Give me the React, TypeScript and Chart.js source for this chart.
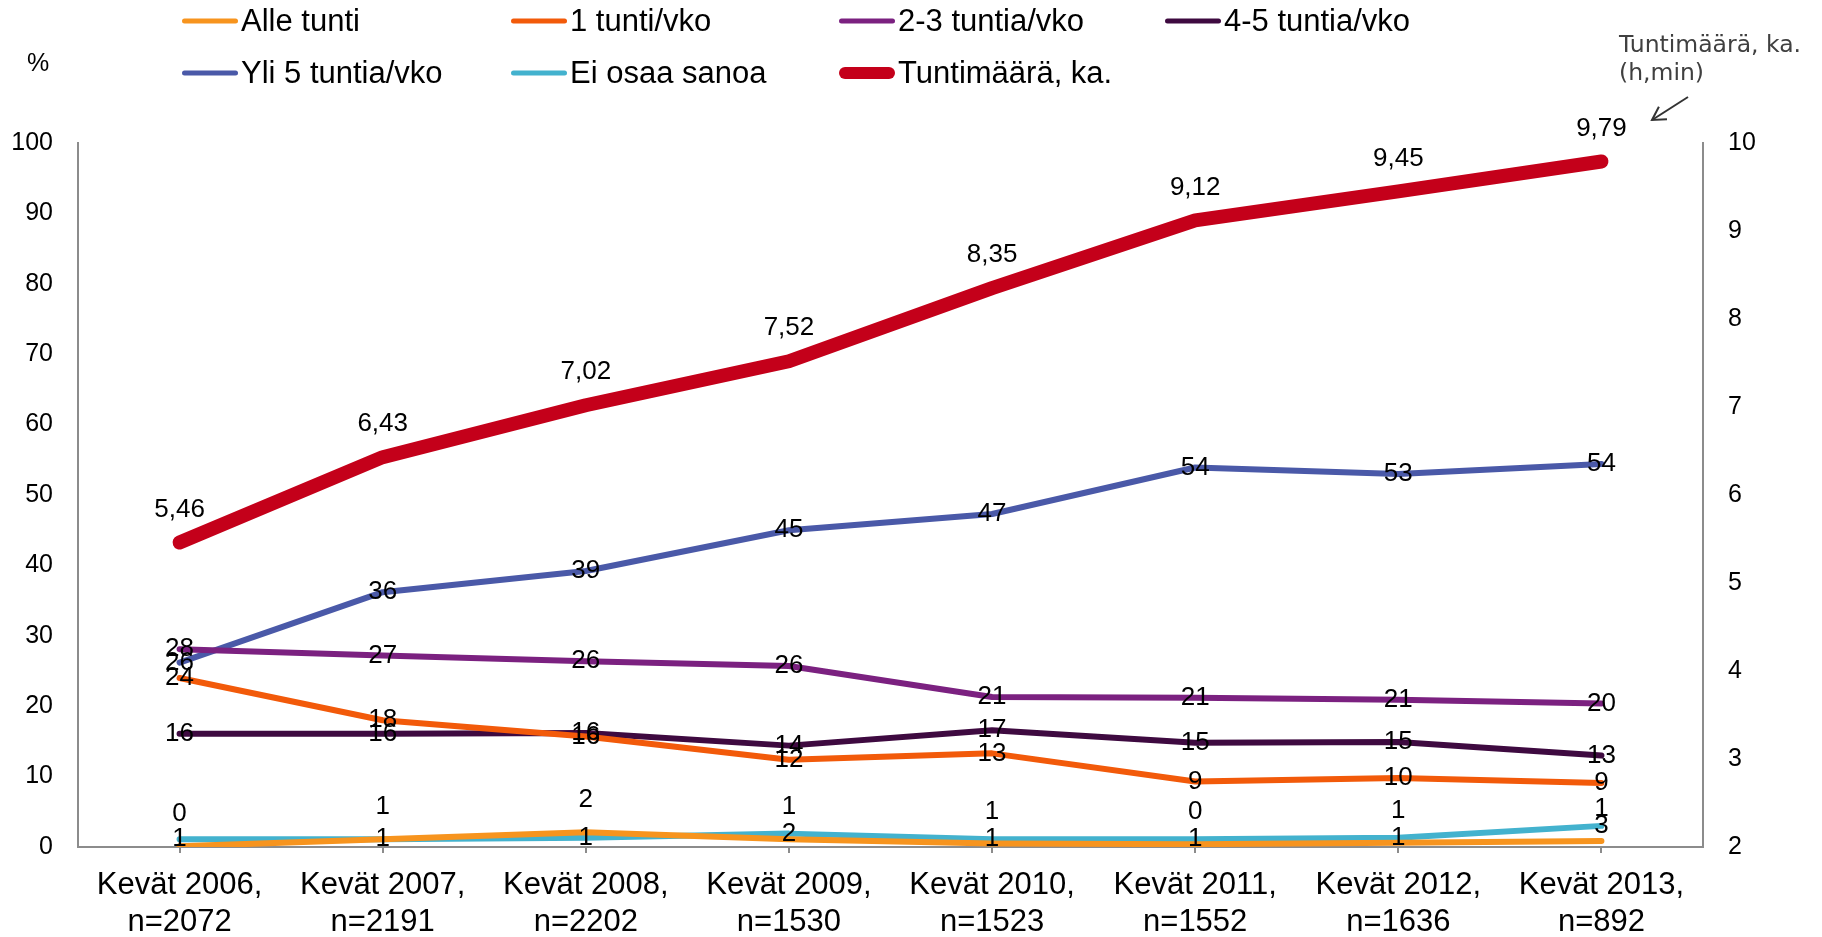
import React, { useEffect, useRef } from "react";
import { Chart, registerables } from "chart.js";

Chart.register(...registerables);

const categories: string[][] = [
  ["Kevät 2006,", "n=2072"],
  ["Kevät 2007,", "n=2191"],
  ["Kevät 2008,", "n=2202"],
  ["Kevät 2009,", "n=1530"],
  ["Kevät 2010,", "n=1523"],
  ["Kevät 2011,", "n=1552"],
  ["Kevät 2012,", "n=1636"],
  ["Kevät 2013,", "n=892"],
];

const alleTunti = [0.1, 1.1, 2.1, 1.1, 0.5, 0.4, 0.6, 0.85];
const yksiTunti = [24.0, 18.0, 15.7, 12.4, 13.3, 9.3, 9.8, 9.1];
const kaksiKolmeTuntia = [28.1, 27.2, 26.4, 25.7, 21.3, 21.2, 20.9, 20.4];
const neljaViisiTuntia = [16.1, 16.1, 16.2, 14.4, 16.6, 14.8, 14.9, 13.0];
const yli5Tuntia = [26.2, 36.2, 39.2, 45.0, 47.3, 53.9, 53.0, 54.4];
const eiOsaaSanoa = [1.1, 1.1, 1.3, 1.9, 1.1, 1.1, 1.3, 3.0];
const tuntimaara = [5.46, 6.43, 7.02, 7.52, 8.35, 9.12, 9.45, 9.79];

const seriesNames = [
  "Alle tunti",
  "1 tunti/vko",
  "2-3 tuntia/vko",
  "4-5 tuntia/vko",
  "Yli 5 tuntia/vko",
  "Ei osaa sanoa",
  "Tuntimäärä, ka.",
];
const seriesColors = ["#F7941E", "#F25A0A", "#7B2180", "#3E0A40", "#4A59A8", "#43B2CE", "#C4001A"];

const leftAxisMin = 0;
const leftAxisMax = 100;
const leftAxisStep = 10;
const rightAxisMin = 2;
const rightAxisMax = 10;
const rightAxisStep = 1;

const annotationLines = ["Tuntimäärä, ka.", "(h,min)"];
const leftAxisUnit = "%";

const FONT = "'Liberation Sans', Arial, Helvetica, sans-serif";

// offset (px) of data labels relative to point; 0 = centered
const labelOffsets = [-32, 0, 0, 0, 0, 0, -33];

const dataLabelPlugin = {
  id: "dataLabels",
  afterDatasetsDraw(chart: any) {
    const ctx = chart.ctx;
    ctx.save();
    ctx.font = `26px ${FONT}`;
    ctx.fillStyle = "#000";
    ctx.textAlign = "center";
    ctx.textBaseline = "middle";
    chart.data.datasets.forEach((ds: any, i: number) => {
      const meta = chart.getDatasetMeta(i);
      meta.data.forEach((el: any, j: number) => {
        const v = ds.data[j];
        const txt = i === 6 ? v.toFixed(2).replace(".", ",") : String(Math.round(v));
        ctx.fillText(txt, el.x, el.y + labelOffsets[i]);
      });
    });
    ctx.restore();
  },
};

const legendPlugin = {
  id: "customLegend",
  afterDraw(chart: any) {
    const ctx = chart.ctx;
    const cols = [182, 511, 839, 1165];
    const rows = [21, 73];
    ctx.save();
    ctx.font = `31px ${FONT}`;
    ctx.textBaseline = "middle";
    ctx.textAlign = "left";
    seriesNames.forEach((name, i) => {
      const x = cols[i % 4];
      const y = rows[Math.floor(i / 4)];
      ctx.beginPath();
      ctx.strokeStyle = seriesColors[i];
      ctx.lineWidth = i === 6 ? 12 : 5;
      ctx.lineCap = "round";
      const inset = i === 6 ? 6 : 2.5;
      ctx.moveTo(x + inset, y);
      ctx.lineTo(x + 56 - inset, y);
      ctx.stroke();
      ctx.fillStyle = "#000";
      ctx.fillText(name, x + 59, y + 1);
    });
    // % unit
    ctx.font = `25px ${FONT}`;
    ctx.textAlign = "center";
    ctx.fillText(leftAxisUnit, 38, 64);
    // annotation
    ctx.font = "23.5px 'DejaVu Sans', Verdana, sans-serif";
    ctx.fillStyle = "#404040";
    ctx.textAlign = "left";
    ctx.fillText(annotationLines[0], 1619, 46);
    ctx.fillText(annotationLines[1], 1619, 74);
    // arrow
    const x1 = 1688, y1 = 97, x2 = 1652, y2 = 120;
    ctx.strokeStyle = "#333";
    ctx.lineWidth = 2;
    ctx.lineCap = "butt";
    ctx.beginPath();
    ctx.moveTo(x1, y1);
    ctx.lineTo(x2, y2);
    ctx.stroke();
    const ang = Math.atan2(y2 - y1, x2 - x1);
    const len = 15;
    ctx.beginPath();
    ctx.moveTo(x2 - len * Math.cos(ang - Math.PI / 6), y2 - len * Math.sin(ang - Math.PI / 6));
    ctx.lineTo(x2, y2);
    ctx.lineTo(x2 - len * Math.cos(ang + Math.PI / 6), y2 - len * Math.sin(ang + Math.PI / 6));
    ctx.stroke();
    ctx.restore();
  },
};

export default function App() {
  const canvasRef = useRef<HTMLCanvasElement | null>(null);

  useEffect(() => {
    if (!canvasRef.current) return;
    const seriesData = [alleTunti, yksiTunti, kaksiKolmeTuntia, neljaViisiTuntia, yli5Tuntia, eiOsaaSanoa, tuntimaara];
    const datasets = seriesData.map((d, i) => ({
      label: seriesNames[i],
      data: d,
      borderColor: seriesColors[i],
      backgroundColor: seriesColors[i],
      borderWidth: i === 6 ? 14 : 6,
      borderCapStyle: "round" as const,
      borderJoinStyle: "round" as const,
      pointRadius: 0,
      pointHoverRadius: 0,
      tension: 0,
      fill: false,
      yAxisID: i === 6 ? "y1" : "y",
    }));

    const chart = new Chart(canvasRef.current, {
      type: "line",
      data: { labels: categories, datasets },
      options: {
        responsive: false,
        animation: false,
        events: [],
        layout: { padding: { top: 143, left: 0, right: 0, bottom: 0 } },
        plugins: {
          legend: { display: false },
          tooltip: { enabled: false },
        },
        scales: {
          x: {
            offset: true,
            grid: {
              display: true,
              drawOnChartArea: false,
              drawTicks: true,
              tickLength: 6,
              color: "#8c8c8c",
              lineWidth: 2,
              offset: false,
            },
            border: { display: true, color: "#8c8c8c", width: 2 },
            ticks: {
              color: "#000",
              font: { family: FONT, size: 31, lineHeight: 1.2 },
              padding: 14,
              maxRotation: 0,
              autoSkip: false,
            },
            afterFit(scale: any) {
              scale.height = 90;
            },
          },
          y: {
            position: "left",
            min: leftAxisMin,
            max: leftAxisMax,
            grid: { display: true, drawOnChartArea: false, drawTicks: false },
            border: { display: true, color: "#8c8c8c", width: 2 },
            ticks: {
              stepSize: leftAxisStep,
              color: "#000",
              font: { family: FONT, size: 25 },
              padding: 25,
            },
            afterFit(scale: any) {
              scale.width = 78;
            },
          },
          y1: {
            position: "right",
            min: rightAxisMin,
            max: rightAxisMax,
            grid: { display: true, drawOnChartArea: false, drawTicks: false },
            border: { display: true, color: "#8c8c8c", width: 2 },
            ticks: {
              stepSize: rightAxisStep,
              color: "#000",
              font: { family: FONT, size: 25 },
              padding: 25,
            },
            afterFit(scale: any) {
              scale.width = 119;
            },
          },
        },
      },
      plugins: [dataLabelPlugin, legendPlugin],
    });
    return () => chart.destroy();
  }, []);

  return (
    <div style={{ position: "absolute", left: 0, top: 0, width: 1822, height: 937, background: "#fff" }}>
      <canvas ref={canvasRef} width={1822} height={937} style={{ display: "block", width: 1822, height: 937 }} />
    </div>
  );
}
